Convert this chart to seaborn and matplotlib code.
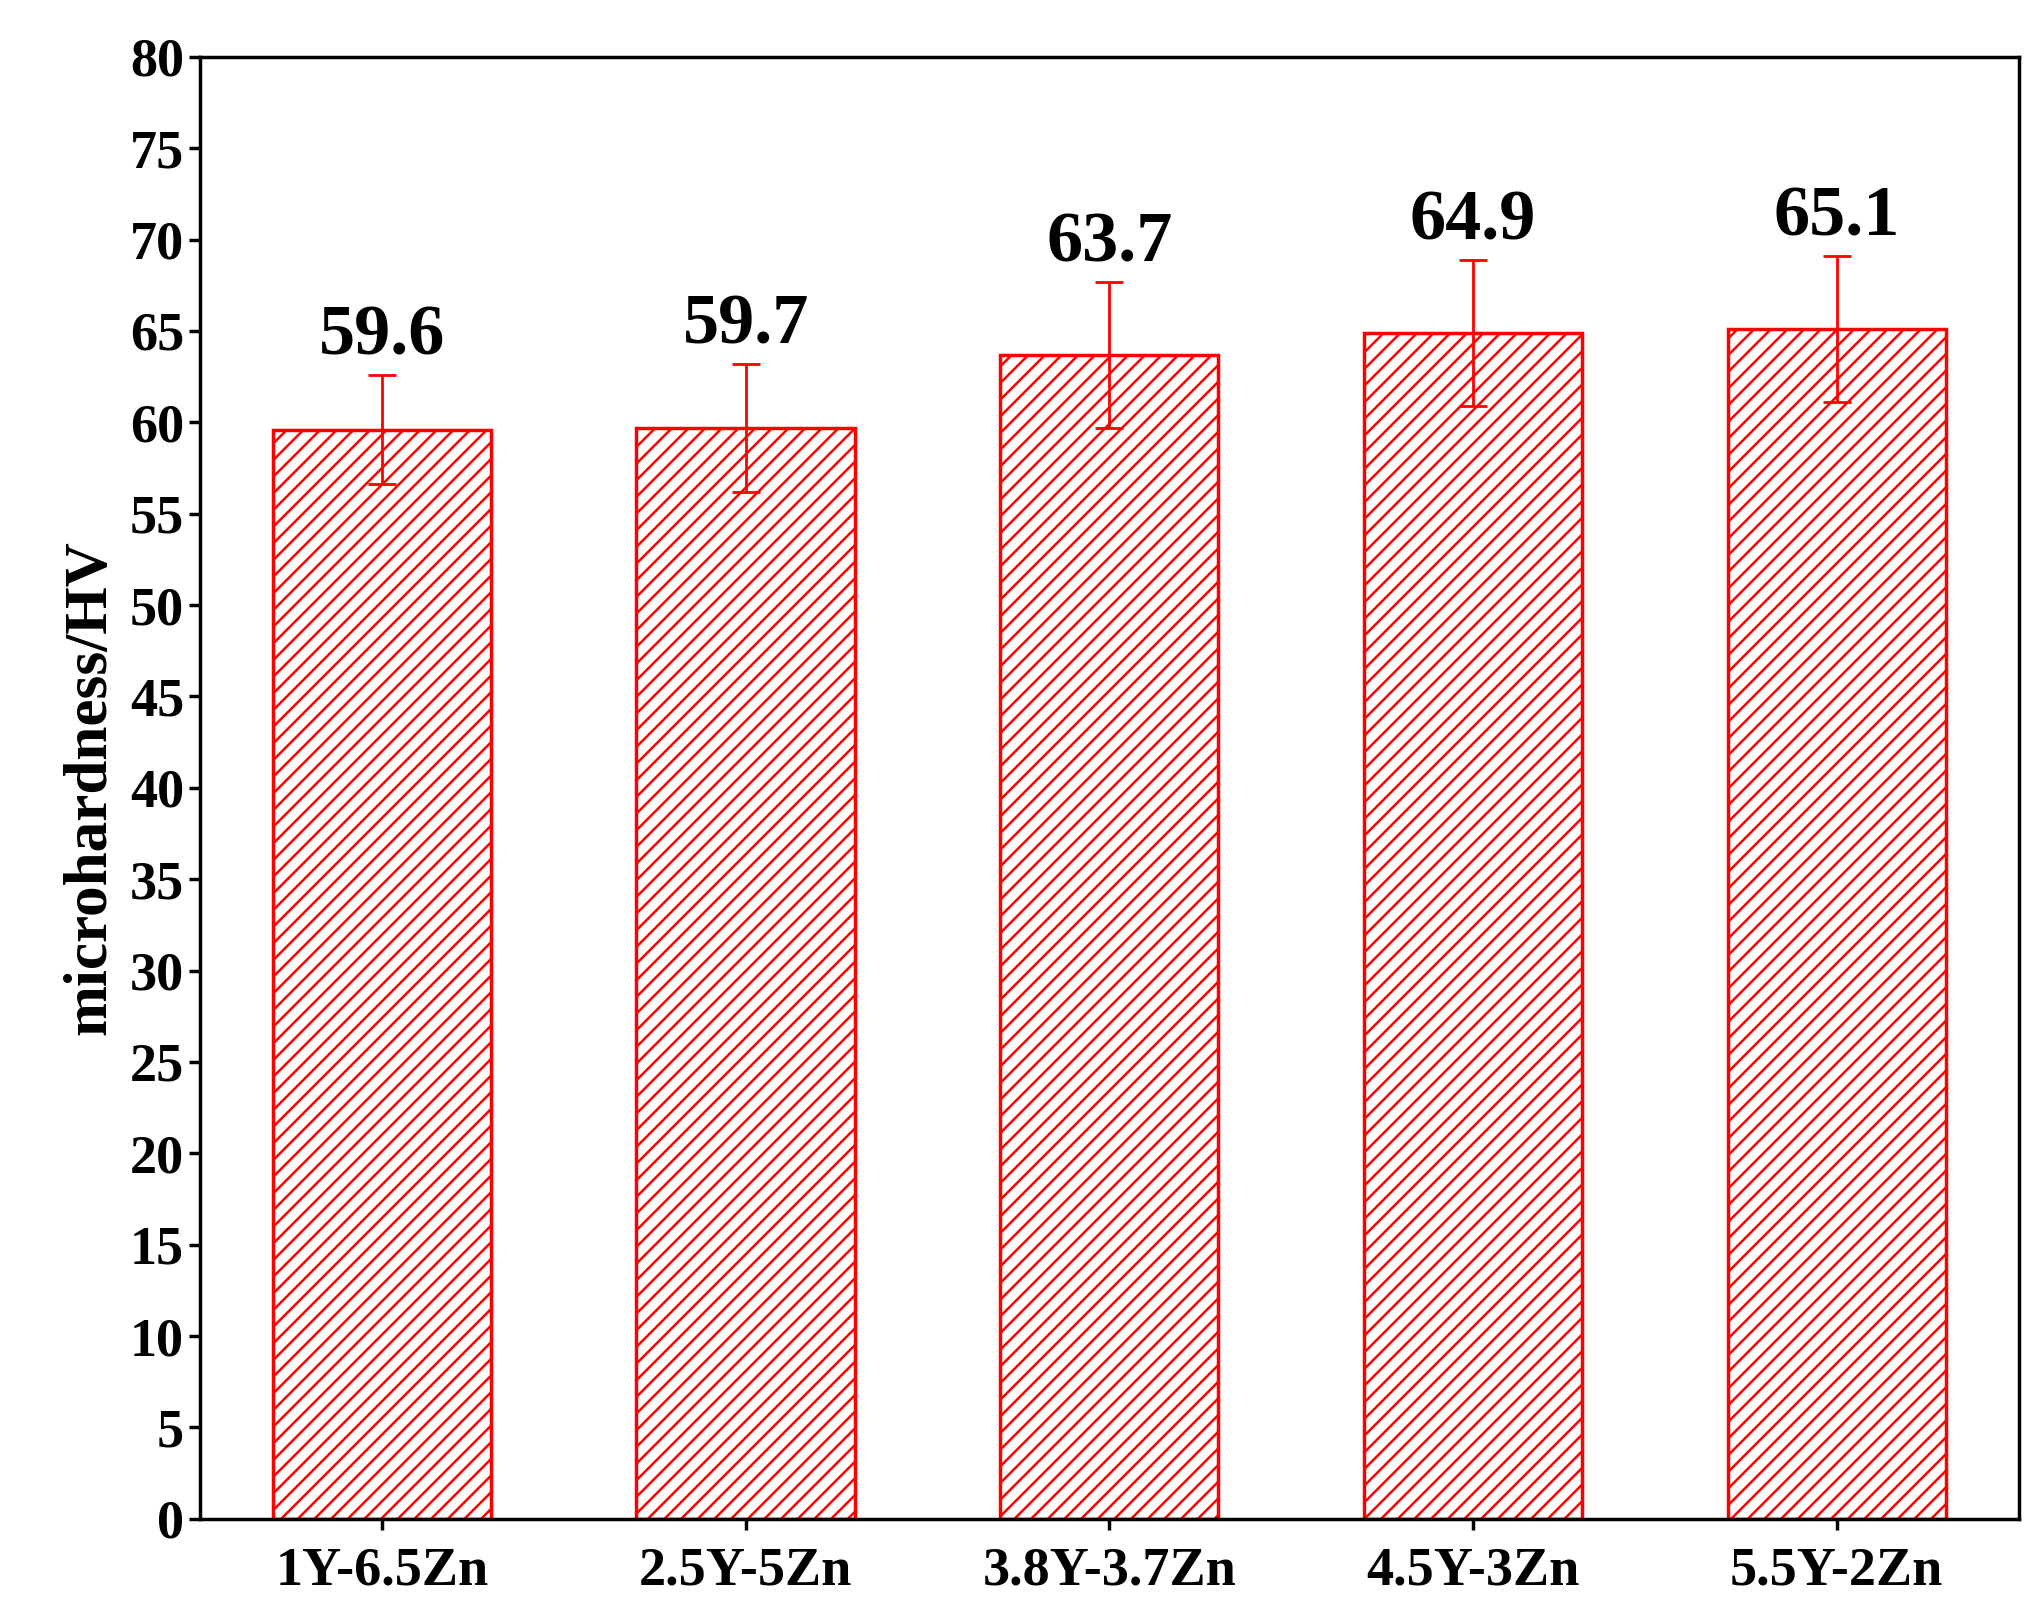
import matplotlib
matplotlib.use('Agg')
import matplotlib.pyplot as plt
import seaborn as sns
import pandas as pd

alloys = ['1Y-6.5Zn', '2.5Y-5Zn', '3.8Y-3.7Zn', '4.5Y-3Zn', '5.5Y-2Zn']
hardness = [59.6, 59.7, 63.7, 64.9, 65.1]
errors = [3.0, 3.5, 4.0, 4.0, 4.0]
yticks = list(range(0, 81, 5))

sns.set_style('ticks')
plt.rcParams['font.family'] = ['Liberation Serif', 'DejaVu Serif']
plt.rcParams['font.weight'] = 'bold'
plt.rcParams['text.color'] = 'black'
plt.rcParams['axes.labelcolor'] = 'black'
plt.rcParams['xtick.color'] = 'black'
plt.rcParams['ytick.color'] = 'black'
plt.rcParams['axes.edgecolor'] = 'black'
plt.rcParams['hatch.color'] = 'red'
plt.rcParams['hatch.linewidth'] = 1.8

df = pd.DataFrame({'alloy': alloys, 'hv': hardness})
fig, ax = plt.subplots(figsize=(20.41, 16.21), dpi=100)
fig.subplots_adjust(left=0.098, right=0.989, top=0.965, bottom=0.063)

sns.barplot(data=df, x='alloy', y='hv', ax=ax, color='white', width=0.6,
            edgecolor='red', linewidth=2.5, hatch='//', errorbar=None)
ax.errorbar(range(len(alloys)), hardness, yerr=errors, fmt='none',
            ecolor='red', elinewidth=2, capsize=10, capthick=2)

for i, (v, e) in enumerate(zip(hardness, errors)):
    ax.text(i, v + e + 0.3, f'{v}', ha='center', va='bottom',
            fontsize=52, fontweight='bold')

ax.set_ylim(0, 80)
ax.set_xlim(-0.5, 4.5)
ax.set_yticks(yticks)
ax.set_xlabel('')
ax.set_ylabel('microhardness/HV', fontsize=44, fontweight='bold', labelpad=8)
ax.tick_params(axis='y', labelsize=39, width=2.5, length=8)
ax.tick_params(axis='x', labelsize=39, width=2.5, length=8, pad=12)
for lab in ax.get_xticklabels() + ax.get_yticklabels():
    lab.set_fontweight('bold')
for s in ax.spines.values():
    s.set_linewidth(2.5)
    s.set_visible(True)

fig.savefig('out.png', dpi=100, facecolor='white')
